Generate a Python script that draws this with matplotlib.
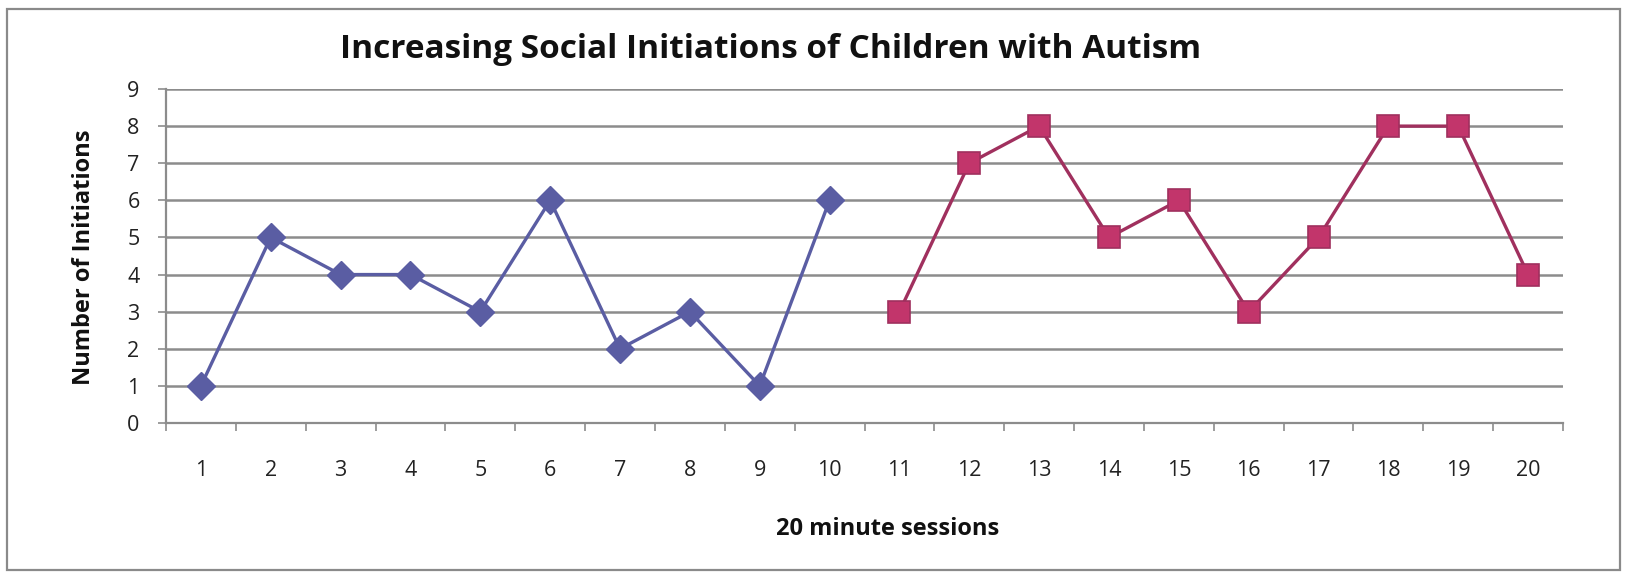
import matplotlib
matplotlib.use("Agg")
import matplotlib.pyplot as plt
from matplotlib.patches import Rectangle

# session numbers and initiation counts per phase
baseline_sessions = [1, 2, 3, 4, 5, 6, 7, 8, 9, 10]
baseline_counts = [1, 5, 4, 4, 3, 6, 2, 3, 1, 6]
treatment_sessions = [11, 12, 13, 14, 15, 16, 17, 18, 19, 20]
treatment_counts = [3, 7, 8, 5, 6, 3, 5, 8, 8, 4]
y_ticks = list(range(0, 10))

BLUE = "#5a5da3"
PINK_LINE = "#a0305e"
PINK_FACE = "#c2356b"
GRID = "#8c8c8c"

plt.rcParams["font.family"] = ["Open Sans", "DejaVu Sans"]

fig = plt.figure(figsize=(16.45, 5.72), dpi=100)
fig.patch.set_facecolor("white")

# outer chart border
fig.patches.append(Rectangle((7 / 1645, 2 / 572), 1613 / 1645, 561 / 572,
                             transform=fig.transFigure, fill=False,
                             edgecolor="#8a8a8a", linewidth=1.6))

ax = fig.add_axes([166 / 1645, 1 - 423 / 572, 1397 / 1645, 334 / 572])

ax.plot(baseline_sessions, baseline_counts, color=BLUE, linewidth=2.4,
        marker="D", markersize=14, markerfacecolor=BLUE, markeredgecolor=BLUE,
        zorder=3, clip_on=False)
ax.plot(treatment_sessions, treatment_counts, color=PINK_LINE, linewidth=2.4,
        marker="s", markersize=16, markerfacecolor=PINK_FACE,
        markeredgecolor=PINK_LINE, markeredgewidth=1.2, zorder=3, clip_on=False)

ax.set_xlim(0.5, 20.5)
ax.set_ylim(0, 9)

ax.set_yticks(y_ticks)
ax.set_yticklabels([str(v) for v in y_ticks], fontsize=15.5, color="#222222")
ax.yaxis.grid(True, color=GRID, linewidth=1.8)
ax.set_axisbelow(True)

# category ticks sit between sessions, labels sit under each session
all_sessions = baseline_sessions + treatment_sessions
ax.set_xticks([s - 0.5 for s in all_sessions] + [all_sessions[-1] + 0.5])
ax.set_xticklabels([])
ax.set_xticks(all_sessions, minor=True)
ax.set_xticklabels([str(s) for s in all_sessions], minor=True, fontsize=15.5,
                   color="#222222")
ax.tick_params(axis="x", which="major", length=6, width=1.2, color=GRID, direction="out")
ax.tick_params(axis="x", which="minor", length=0, pad=27)
ax.tick_params(axis="y", length=6, width=1.2, color=GRID, pad=13)

for side in ("top", "right"):
    ax.spines[side].set_visible(False)
for side in ("left", "bottom"):
    ax.spines[side].set_color(GRID)
    ax.spines[side].set_linewidth(1.6)

fig.text(771 / 1645, 1 - 49 / 572, "Increasing Social Initiations of Children with Autism",
         ha="center", va="center", fontsize=24, fontweight="bold", color="#111111")
fig.text(84 / 1645, 1 - 257 / 572, "Number of Initiations", rotation=90,
         ha="center", va="center", fontsize=17, fontweight="bold", color="#111111")
fig.text(888 / 1645, 1 - 529 / 572, "20 minute sessions",
         ha="center", va="center", fontsize=17, fontweight="bold", color="#111111")

fig.savefig("out.png", dpi=100, facecolor="white")
